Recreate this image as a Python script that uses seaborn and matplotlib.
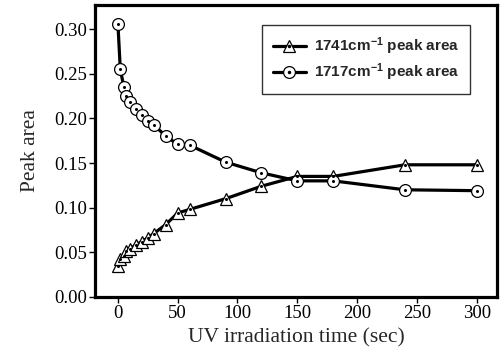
import matplotlib
matplotlib.use("Agg")
import matplotlib.pyplot as plt
import seaborn as sns
import pandas as pd
from matplotlib.legend_handler import HandlerTuple
from matplotlib.lines import Line2D

time_sec = [0, 2, 5, 7, 10, 15, 20, 25, 30, 40, 50, 60, 90, 120, 150, 180, 240, 300]
peak_1741 = [0.035, 0.042, 0.046, 0.051, 0.054, 0.058, 0.062, 0.066, 0.071, 0.081, 0.094, 0.098,
             0.110, 0.124, 0.135, 0.135, 0.148, 0.148]
peak_1717 = [0.306, 0.255, 0.235, 0.225, 0.218, 0.210, 0.204, 0.197, 0.193, 0.180, 0.171, 0.170,
             0.151, 0.139, 0.130, 0.130, 0.120, 0.119]
series_labels = [r"1741cm$^{-1}$ peak area", r"1717cm$^{-1}$ peak area"]
x_label = "UV irradiation time (sec)"
y_label = "Peak area"

sns.set_style("ticks")
plt.rcParams['font.family'] = ['Liberation Serif', 'DejaVu Serif']
plt.rcParams['mathtext.fontset'] = 'custom'
plt.rcParams['mathtext.rm'] = 'Liberation Sans:bold'
plt.rcParams['mathtext.default'] = 'rm'

df = pd.DataFrame({"t": time_sec, "a1741": peak_1741, "a1717": peak_1717})

fig, ax = plt.subplots(figsize=(5.01, 3.59), dpi=100)
fig.subplots_adjust(left=0.19, right=0.992, top=0.986, bottom=0.173)

lw = 2.3
sns.lineplot(data=df, x="t", y="a1741", ax=ax, color="black", linewidth=lw, marker="^",
             markersize=8, markerfacecolor="white", markeredgecolor="black", markeredgewidth=0.9,
             zorder=3)
sns.lineplot(data=df, x="t", y="a1717", ax=ax, color="black", linewidth=lw, marker="o",
             markersize=8.5, markerfacecolor="white", markeredgecolor="black", markeredgewidth=0.9,
             zorder=3)
ax.plot(df["t"], df["a1741"], linestyle="none", marker="o", markersize=1.2, color="black", zorder=4)
ax.plot(df["t"], df["a1717"], linestyle="none", marker="o", markersize=1.2, color="black", zorder=4)

ax.set_xlim(-19, 317)
ax.set_ylim(0, 0.327)
ax.set_xticks([0, 50, 100, 150, 200, 250, 300])
ax.set_yticks([0.0, 0.05, 0.10, 0.15, 0.20, 0.25, 0.30])
ax.set_yticklabels([f"{v:.2f}" for v in [0.0, 0.05, 0.10, 0.15, 0.20, 0.25, 0.30]])
ax.tick_params(axis="both", labelsize=13.5, direction="out", length=4, width=1, colors="black", pad=2)
ax.set_xlabel(x_label, fontsize=15.5, labelpad=4)
ax.set_ylabel(y_label, fontsize=15.5, labelpad=10)
for sp in ax.spines.values():
    sp.set_linewidth(2.3)
    sp.set_color("black")

def handle(marker, ms):
    line = Line2D([], [], color="black", linewidth=lw, marker=marker, markersize=ms,
                  markerfacecolor="white", markeredgecolor="black", markeredgewidth=0.9)
    dot = Line2D([], [], linestyle="none", marker="o", markersize=1.5, color="black")
    return (line, dot)

leg = ax.legend([handle("^", 8), handle("o", 8.5)], series_labels,
                handler_map={tuple: HandlerTuple(ndivide=1, pad=0)},
                loc="upper right", bbox_to_anchor=(0.933, 0.932), borderaxespad=0,
                frameon=True, fancybox=False, shadow=False, handlelength=2.2,
                prop={"family": "Liberation Sans", "weight": "bold", "size": 11},
                borderpad=0.7, labelspacing=0.3, handletextpad=0.5)
leg.get_frame().set_edgecolor("black")
leg.get_frame().set_linewidth(1.0)

fig.savefig("out.png", dpi=100)
